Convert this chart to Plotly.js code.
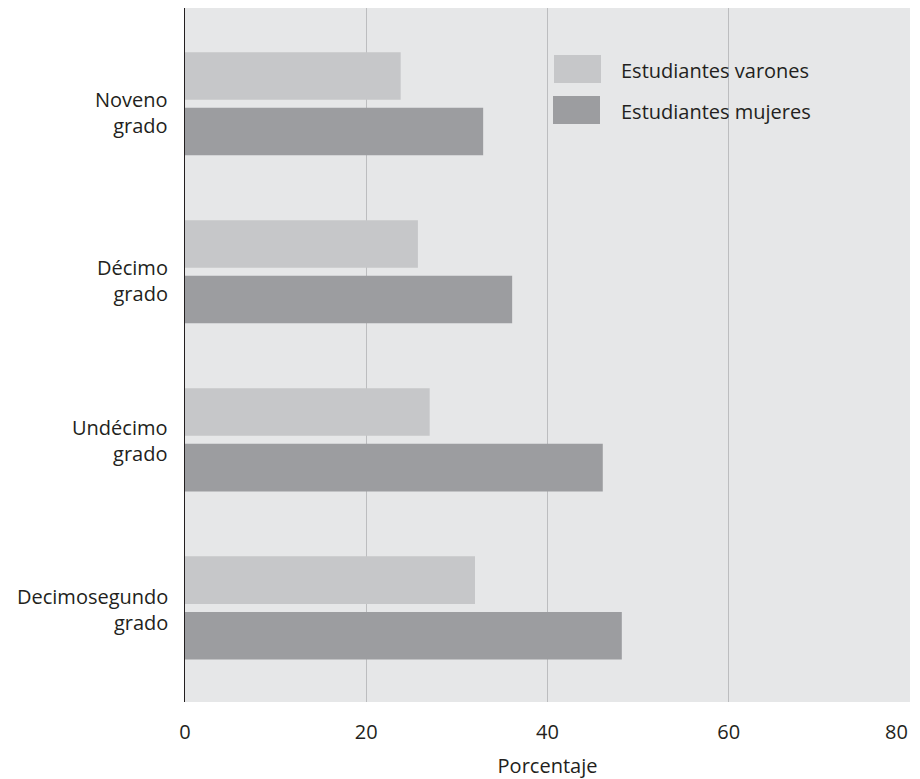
<!DOCTYPE html>
<html>
<head>
<meta charset="utf-8">
<script src="https://cdn.plot.ly/plotly-3.0.1.min.js"></script>
<style>html,body{margin:0;padding:0;background:#fff;}#chart{width:920px;height:779px;}</style>
</head>
<body>
<div id="chart"></div>
<script>
const categories = ["Noveno grado", "Décimo grado", "Undécimo grado", "Decimosegundo grado"];
const categoryLabels = ["Noveno<br>grado", "Décimo<br>grado", "Undécimo<br>grado", "Decimosegundo<br>grado"];
const varones = [23.8, 25.7, 27.0, 32.0];
const mujeres = [32.9, 36.1, 46.1, 48.2];
const seriesNames = ["Estudiantes varones", "Estudiantes mujeres"];
const xTicks = [0, 20, 40, 60, 80];
const xTickLabels = ["0", "20", "40", "60", "80"];

const colVar = "#c6c7c9";
const colMuj = "#9c9da0";
const txt = "#231f20";
const fontFam = "'Open Sans', 'Noto Sans', sans-serif";
const labelShift = [-9, -9, -1, -2];

const traces = [
  {type: "bar", orientation: "h", name: seriesNames[0], y: categories, x: varones,
   marker: {color: colVar}, hoverinfo: "x"},
  {type: "bar", orientation: "h", name: seriesNames[1], y: categories, x: mujeres,
   marker: {color: colMuj}, hoverinfo: "x"}
];

const annotations = categories.map((c, i) => ({
  xref: "paper", yref: "y", x: 0, y: c, xanchor: "right", yanchor: "middle",
  xshift: -15, yshift: labelShift[i], align: "right",
  text: categoryLabels[i], showarrow: false, font: {size: 20, color: txt}
}));
annotations.push(
  {xref: "paper", yref: "paper", x: (619-185)/725, y: (702-70)/694, xanchor: "left", yanchor: "middle",
   text: seriesNames[0], showarrow: false, font: {size: 20, color: txt}},
  {xref: "paper", yref: "paper", x: (619-185)/725, y: (702-111)/694, xanchor: "left", yanchor: "middle",
   text: seriesNames[1], showarrow: false, font: {size: 20, color: txt}}
);

// last tick label drawn right-aligned at its tick so it stays inside the page
const lastIdx = xTicks.length - 1;
annotations.push({
  xref: "x", yref: "paper", x: xTicks[lastIdx], y: 0, xanchor: "right", yanchor: "middle",
  xshift: 0, yshift: -29, text: xTickLabels[lastIdx], showarrow: false,
  font: {size: 20, color: txt}
});
const tickText = xTickLabels.map((t, i) => i === lastIdx ? "" : t);

const layout = {
  width: 920, height: 779,
  margin: {l: 185, r: 10, t: 8, b: 77},
  paper_bgcolor: "#ffffff",
  plot_bgcolor: "#e6e7e8",
  barmode: "group",
  bargap: 0.339,
  bargroupgap: 0.144,
  showlegend: false,
  font: {family: fontFam, size: 20, color: txt},
  xaxis: {
    range: [0, 80], tickvals: xTicks, ticktext: tickText,
    showgrid: true, gridcolor: "#bcbdbf", gridwidth: 1,
    zeroline: false, showline: false, ticks: "",
    ticklabelstandoff: 16,
    tickfont: {size: 20, color: txt},
    title: {text: "Porcentaje", font: {size: 20, color: txt}, standoff: 15}
  },
  yaxis: {
    type: "category", categoryorder: "array", categoryarray: categories,
    range: [3.56, -0.57],
    showgrid: false, zeroline: false, showticklabels: false,
    showline: true, linecolor: "#231f20", linewidth: 1.5,
    ticks: ""
  },
  shapes: [
    {type: "rect", xref: "paper", yref: "paper", x0: (554-185)/725, x1: (601-185)/725,
     y0: (702-83)/694, y1: (702-55)/694, fillcolor: colVar, line: {width: 0}},
    {type: "rect", xref: "paper", yref: "paper", x0: (553-185)/725, x1: (600-185)/725,
     y0: (702-124)/694, y1: (702-96)/694, fillcolor: colMuj, line: {width: 0}}
  ],
  annotations: annotations
};

Plotly.newPlot("chart", traces, layout, {displayModeBar: false, staticPlot: true});
</script>
</body>
</html>
